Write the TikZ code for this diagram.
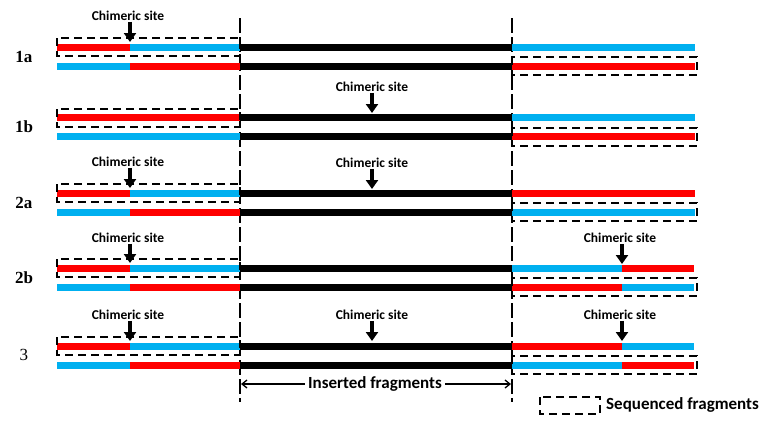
\documentclass[tikz,border=0pt]{standalone}
\usepackage{fontspec}
\setmainfont{Carlito}
\newfontfamily\lblfont{Liberation Serif}
\usetikzlibrary{arrows.meta}
\definecolor{sred}{RGB}{255,0,0}
\definecolor{sblue}{RGB}{0,176,240}
\tikzset{
  strand/.style={line width=7pt},
  seqbox/.style={draw=black, line width=1.3pt, dash pattern=on 8pt off 5pt},
  vline/.style={draw=black, line width=1.2pt, dash pattern=on 15pt off 4pt},
  chimtxt/.style={font=\bfseries\fontsize{13.5}{15}\selectfont, inner sep=1pt},
  chimarrow/.style={line width=3.4pt, -{Triangle[length=9pt,width=12pt]}},
  rowlbl/.style={font=\lblfont\bfseries\fontsize{17}{19}\selectfont},
}
\begin{document}
\begin{tikzpicture}[x=1pt,y=-1pt]
\useasboundingbox (0,0) rectangle (761,434);
% vertical lines
\draw[vline] (240,18) -- (240,402);
\draw[vline] (512,18) -- (512,402);

% Row 1a
\draw[strand,sred] (57,47) -- (130,47);
\draw[strand,sblue] (130,47) -- (240,47);
\draw[strand,sblue] (57,66) -- (130,66);
\draw[strand,sred] (130,66) -- (240,66);
\draw[strand,black] (240,47) -- (512,47);
\draw[strand,black] (240,66) -- (512,66);
\draw[strand,sblue] (512,47) -- (695,47);
\draw[strand,sred] (512,66) -- (695,66);
\draw[seqbox] (57,38) rectangle (240,56);
\draw[seqbox] (512,57) rectangle (697,75);
\node[rowlbl] (l1a) at (24,57) {1a};
\node[chimtxt] (c1a) at (128,16) {Chimeric site};
\coordinate (t1a) at (130,42);
\draw[chimarrow] (c1a.south -| t1a) -- (t1a);

% Row 1b
\draw[strand,sred] (57,117) -- (240,117);
\draw[strand,sblue] (57,136) -- (240,136);
\draw[strand,black] (240,117) -- (512,117);
\draw[strand,black] (240,136) -- (512,136);
\draw[strand,sblue] (512,117) -- (695,117);
\draw[strand,sred] (512,136) -- (695,136);
\draw[seqbox] (57,109) rectangle (240,127);
\draw[seqbox] (512,128) rectangle (697,146);
\node[rowlbl] (l1b) at (24,127) {1b};
\node[chimtxt] (c1b) at (372,87) {Chimeric site};
\coordinate (t1b) at (372,113);
\draw[chimarrow] (c1b.south -| t1b) -- (t1b);

% Row 2a
\draw[strand,sred] (57,193) -- (130,193);
\draw[strand,sblue] (130,193) -- (240,193);
\draw[strand,sblue] (57,212) -- (130,212);
\draw[strand,sred] (130,212) -- (240,212);
\draw[strand,black] (240,193) -- (512,193);
\draw[strand,black] (240,212) -- (512,212);
\draw[strand,sred] (512,193) -- (695,193);
\draw[strand,sblue] (512,212) -- (695,212);
\draw[seqbox] (57,184) rectangle (240,202);
\draw[seqbox] (512,203) rectangle (697,221);
\node[rowlbl] (l2a) at (24,203) {2a};
\node[chimtxt] (c2a) at (128,162) {Chimeric site};
\coordinate (t2a) at (130,188);
\draw[chimarrow] (c2a.south -| t2a) -- (t2a);
\node[chimtxt] (c2am) at (372,163) {Chimeric site};
\coordinate (t2am) at (372,189);
\draw[chimarrow] (c2am.south -| t2am) -- (t2am);

% Row 2b
\draw[strand,sred] (57,268) -- (130,268);
\draw[strand,sblue] (130,268) -- (240,268);
\draw[strand,sblue] (57,287) -- (130,287);
\draw[strand,sred] (130,287) -- (240,287);
\draw[strand,black] (240,268) -- (512,268);
\draw[strand,black] (240,287) -- (512,287);
\draw[strand,sblue] (512,268) -- (622,268);
\draw[strand,sred] (622,268) -- (694,268);
\draw[strand,sred] (512,287) -- (622,287);
\draw[strand,sblue] (622,287) -- (694,287);
\draw[seqbox] (57,259) rectangle (240,277);
\draw[seqbox] (512,278) rectangle (697,296);
\node[rowlbl] (l2b) at (24,278) {2b};
\node[chimtxt] (c2b) at (128,238) {Chimeric site};
\coordinate (t2b) at (130,263);
\draw[chimarrow] (c2b.south -| t2b) -- (t2b);
\node[chimtxt] (c2br) at (620,238) {Chimeric site};
\coordinate (t2br) at (622,264);
\draw[chimarrow] (c2br.south -| t2br) -- (t2br);

% Row 3
\draw[strand,sred] (57,346) -- (130,346);
\draw[strand,sblue] (130,346) -- (240,346);
\draw[strand,sblue] (57,365) -- (130,365);
\draw[strand,sred] (130,365) -- (240,365);
\draw[strand,black] (240,346) -- (512,346);
\draw[strand,black] (240,365) -- (512,365);
\draw[strand,sred] (512,346) -- (622,346);
\draw[strand,sblue] (622,346) -- (694,346);
\draw[strand,sblue] (512,365) -- (622,365);
\draw[strand,sred] (622,365) -- (694,365);
\draw[seqbox] (57,337) rectangle (240,355);
\draw[seqbox] (512,356) rectangle (697,374);
\node[font=\lblfont\fontsize{17}{19}\selectfont] (l3) at (24,355) {3};
\node[chimtxt] (c3) at (128,315) {Chimeric site};
\coordinate (t3) at (130,341);
\draw[chimarrow] (c3.south -| t3) -- (t3);
\node[chimtxt] (c3m) at (372,315) {Chimeric site};
\coordinate (t3m) at (372,341);
\draw[chimarrow] (c3m.south -| t3m) -- (t3m);
\node[chimtxt] (c3r) at (620,315) {Chimeric site};
\coordinate (t3r) at (622,341);
\draw[chimarrow] (c3r.south -| t3r) -- (t3r);

% Inserted fragments
\coordinate (insL) at (241,384);
\coordinate (insR) at (511,384);
\node[font=\bfseries\fontsize{17}{19}\selectfont, fill=white, inner sep=3pt] (ins) at (375,384) {Inserted fragments};
\draw[line width=1.3pt, -{Straight Barb[length=5pt,width=8pt]}] (ins.west) -- (insL);
\draw[line width=1.3pt, -{Straight Barb[length=5pt,width=8pt]}] (ins.east) -- (insR);

% Legend
\draw[seqbox] (540,397) rectangle (600,414);
\node[font=\bfseries\fontsize{17}{19}\selectfont, anchor=west, inner sep=0pt] (leg) at (606,405) {Sequenced fragments};
\end{tikzpicture}
\end{document}
